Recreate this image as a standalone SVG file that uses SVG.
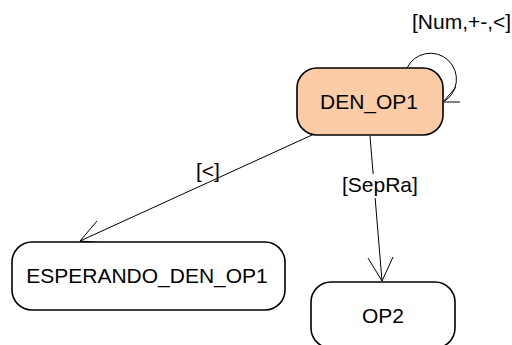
<svg xmlns="http://www.w3.org/2000/svg" width="512" height="345" viewBox="0 0 512 345">
  <style>
    .state rect { stroke: #000; stroke-width: 1.6; }
    .state text, .lbl { font-family: "Liberation Sans", Arial, sans-serif; font-size: 21px; fill: #000; }
    .state text { text-anchor: middle; }
    .edge { fill: none; stroke: #000; stroke-width: 1; }
  </style>
  <rect width="512" height="345" fill="#fff"/>

  <g id="connectors">
    <!-- self loop on DEN_OP1 -->
    <path class="edge" d="M407,68 A26,26 0 1 1 443,102"/>
    <path class="edge" d="M460,102 L443,102 L456,87"/>
    <text class="lbl" x="412" y="29">[Num,+-,&lt;]</text>

    <!-- DEN_OP1 to ESPERANDO_DEN_OP1 -->
    <path class="edge" d="M312,135 L80,241"/>
    <path class="edge" d="M97,221 L80,241 L106,243"/>
    <text class="lbl" x="196" y="178">[&lt;]</text>

    <!-- DEN_OP1 to OP2 -->
    <path class="edge" d="M370,136 L382,281"/>
    <path class="edge" d="M368,258 L382,281 L393,257"/>
    <rect x="342" y="174" width="78" height="24" fill="#fff"/>
    <text class="lbl" x="342" y="192">[SepRa]</text>
  </g>

  <g id="DEN_OP1" class="state">
    <rect x="297" y="68" width="146" height="67" rx="20" fill="#fbcca5"/>
    <text x="369" y="109">DEN_OP1</text>
  </g>

  <g id="ESPERANDO_DEN_OP1" class="state">
    <rect x="12" y="242" width="273" height="68" rx="20" fill="#fff"/>
    <text x="147" y="283">ESPERANDO_DEN_OP1</text>
  </g>

  <g id="OP2" class="state">
    <rect x="311" y="282" width="144" height="66" rx="20" fill="#fff"/>
    <text x="383" y="323">OP2</text>
  </g>
</svg>
